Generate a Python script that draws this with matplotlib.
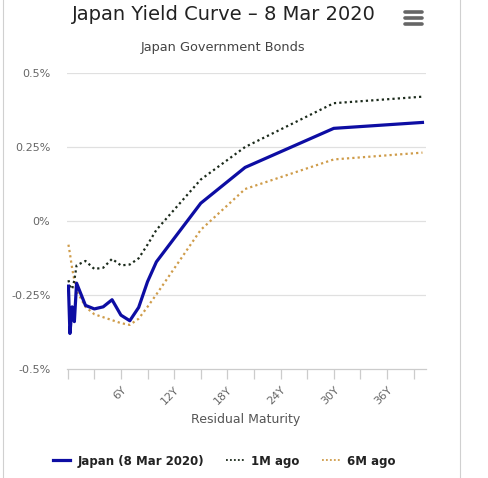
import matplotlib
matplotlib.use("Agg")
import matplotlib.pyplot as plt
from matplotlib.lines import Line2D
import numpy as np

# ---- data ----
maturities = [1/12, 0.25, 0.5, 0.75, 1, 2, 3, 4, 5, 6, 7, 8, 9, 10, 15, 20, 30, 40]
japan_now = [-0.22, -0.38, -0.29, -0.34, -0.21, -0.285, -0.297, -0.29, -0.266, -0.318, -0.337,
             -0.292, -0.205, -0.138, 0.06, 0.181, 0.313, 0.333]
one_m_ago = [-0.20, -0.22, -0.23, -0.20, -0.15, -0.135, -0.162, -0.158, -0.128, -0.150, -0.147,
             -0.126, -0.08, -0.03, 0.14, 0.25, 0.398, 0.42]
six_m_ago = [-0.08, -0.11, -0.16, -0.20, -0.235, -0.29, -0.315, -0.325, -0.335, -0.345, -0.351,
             -0.33, -0.29, -0.248, -0.03, 0.108, 0.208, 0.231]
series_names = ["Japan (8 Mar 2020)", "1M ago", "6M ago"]
y_ticks = [-0.5, -0.25, 0, 0.25, 0.5]
y_tick_labels = ["-0.5%", "-0.25%", "0%", "0.25%", "0.5%"]
x_minor = list(range(0, 40, 3))
x_major = [6, 12, 18, 24, 30, 36]
x_major_labels = ["6Y", "12Y", "18Y", "24Y", "30Y", "36Y"]

W, H = 488, 478
fig = plt.figure(figsize=(W/100, H/100), dpi=100)

def px(x, y):
    return x / W, 1 - y / H

left, right = 67, 426
top, bottom = 73, 369
ax = fig.add_axes([left/W, 1 - bottom/H, (right-left)/W, (bottom-top)/H])

c_blue = "#0d0da3"
c_black = "#1b2a1b"
c_orange = "#cf9c4a"

ax.plot(maturities, japan_now, color=c_blue, lw=2.3, solid_joinstyle="round", zorder=5)
ax.plot(maturities, one_m_ago, color=c_black, lw=1.6, ls=(0, (1, 1.4)), zorder=4)
ax.plot(maturities, six_m_ago, color=c_orange, lw=1.6, ls=(0, (1, 1.4)), zorder=3)

ax.set_xlim(-0.08, 40.4)
ax.set_ylim(-0.5, 0.5)

for yv in y_ticks:
    if yv > -0.5:
        ax.axhline(yv, color="#e0e0e0", lw=0.9, zorder=1)

for s in ["top", "right", "left"]:
    ax.spines[s].set_visible(False)
ax.spines["bottom"].set_color("#cccccc")
ax.spines["bottom"].set_linewidth(0.9)

ax.set_yticks(y_ticks)
ax.set_yticklabels(y_tick_labels, fontsize=8, color="#666666")
ax.tick_params(axis="y", length=0, pad=12)

ax.set_xticks(x_minor, minor=True)
ax.set_xticks(x_major)
ax.set_xticklabels(x_major_labels, fontsize=8, color="#666666",
                   rotation=45, ha="right", va="top", rotation_mode="anchor")
ax.tick_params(axis="x", which="both", length=7.5, color="#cccccc", width=0.9,
               direction="out", pad=4)

fig.text(*px(246, 420), "Residual Maturity", ha="center", va="center",
         fontsize=9, color="#555555")

fig.text(*px(223.5, 14), "Japan Yield Curve \u2013 8 Mar 2020", ha="center", va="center",
         fontsize=14, color="#222222")
fig.text(*px(223, 47), "Japan Government Bonds", ha="center", va="center",
         fontsize=9.3, color="#444444")

# hamburger menu icon
for yy in (12, 18, 24):
    fig.add_artist(Line2D([405/W, 421.5/W], [1 - yy/H, 1 - yy/H], color="#666666",
                          lw=2.6, solid_capstyle="round"))

# borders
fig.add_artist(Line2D([3/W, 3/W], [0, 1], color="#d0d0d0", lw=0.8))
fig.add_artist(Line2D([460/W, 460/W], [0, 1], color="#d0d0d0", lw=0.8))

handles = [Line2D([], [], color=c_blue, lw=2.3),
           Line2D([], [], color=c_black, lw=1.3, ls=(0, (1, 1.2))),
           Line2D([], [], color=c_orange, lw=1.3, ls=(0, (1, 1.2)))]
leg = fig.legend(handles, series_names, loc="center", bbox_to_anchor=px(224, 461),
                 ncol=3, frameon=False, handlelength=1.5, handletextpad=0.6,
                 columnspacing=1.9, prop={"size": 8.5, "weight": "bold"})
for t in leg.get_texts():
    t.set_color("#222222")

fig.savefig("out.png", dpi=100)
